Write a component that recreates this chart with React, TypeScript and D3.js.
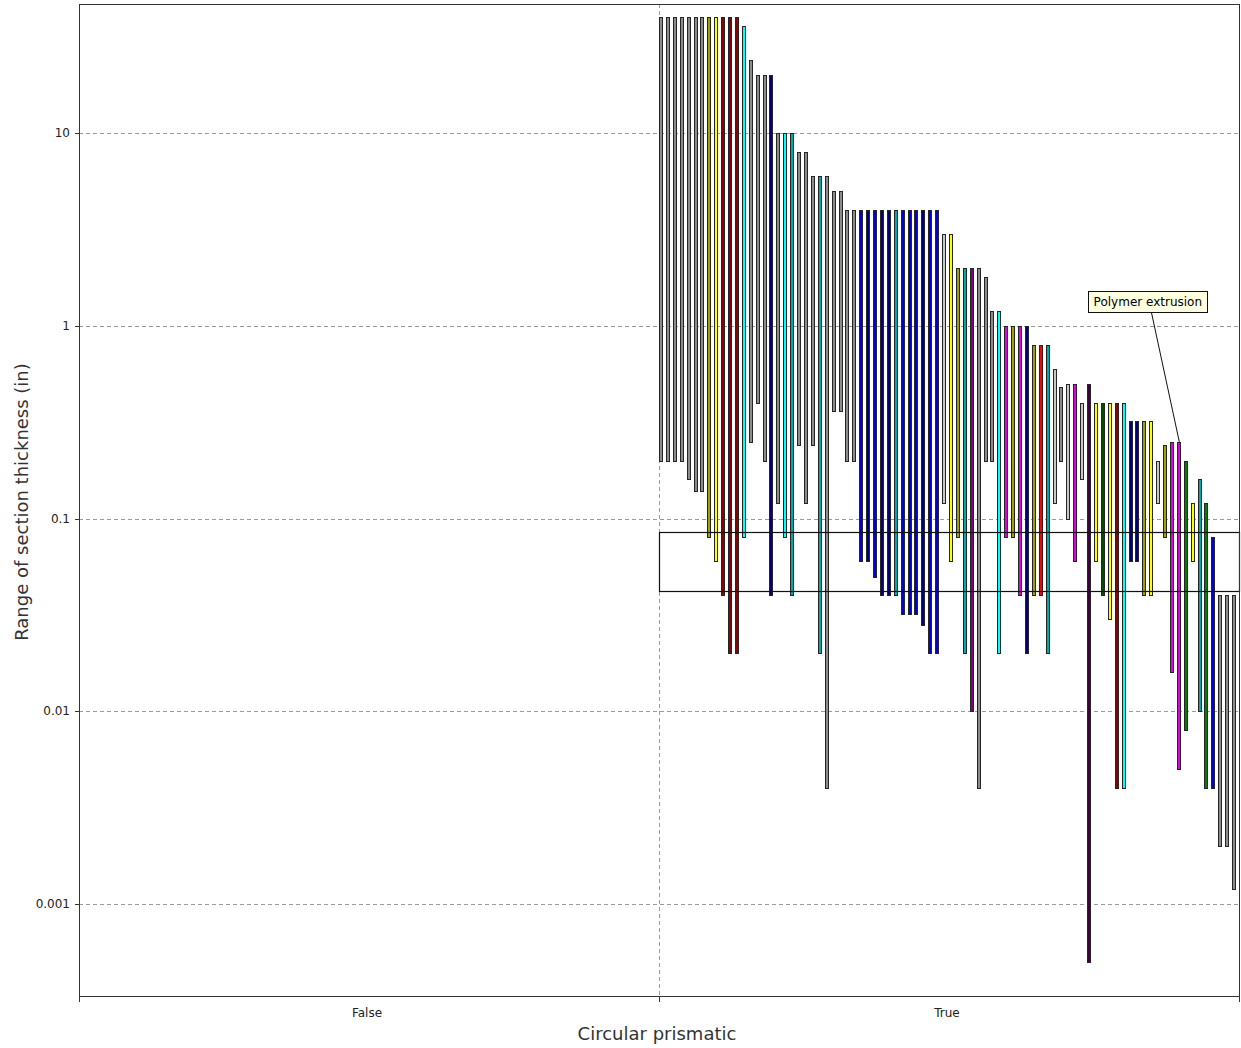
import React from 'react';
import * as d3 from 'd3';

const categories = ['False', 'True'];
const yTickValues = [10, 1, 0.1, 0.01, 0.001];
const yTickLabels = ['10', '1', '0.1', '0.01', '0.001'];
const xTitle = 'Circular prismatic';
const yTitle = 'Range of section thickness (in)';

// each bar: range of section thickness (in) for one material (category "True")
const barLow = [
  0.2, 0.2, 0.2, 0.2, 0.16, 0.14, 0.14, 0.08, 0.06, 0.04, 0.02, 0.02,
  0.08, 0.25, 0.4, 0.2, 0.04, 0.12, 0.08, 0.04, 0.24, 0.12, 0.24, 0.02,
  0.004, 0.36, 0.36, 0.2, 0.2, 0.06, 0.06, 0.05, 0.04, 0.04, 0.04, 0.032,
  0.032, 0.032, 0.028, 0.02, 0.02, 0.12, 0.06, 0.08, 0.02, 0.01, 0.004, 0.2,
  0.2, 0.02, 0.08, 0.08, 0.04, 0.02, 0.04, 0.04, 0.02, 0.12, 0.2, 0.1,
  0.06, 0.16, 0.0005, 0.06, 0.04, 0.03, 0.004, 0.004, 0.06, 0.06, 0.04, 0.04,
  0.12, 0.08, 0.016, 0.005, 0.008, 0.06, 0.01, 0.004, 0.004, 0.002, 0.002, 0.0012,
];
const barHigh = [
  40, 40, 40, 40, 40, 40, 40, 40, 40, 40, 40, 40,
  36, 24, 20, 20, 20, 10, 10, 10, 8, 8, 6, 6,
  6, 5, 5, 4, 4, 4, 4, 4, 4, 4, 4, 4,
  4, 4, 4, 4, 4, 3, 3, 2, 2, 2, 2, 1.8,
  1.2, 1.2, 1, 1, 1, 1, 0.8, 0.8, 0.8, 0.6, 0.48, 0.5,
  0.5, 0.4, 0.5, 0.4, 0.4, 0.4, 0.4, 0.4, 0.32, 0.32, 0.32, 0.32,
  0.2, 0.24, 0.25, 0.25, 0.2, 0.12, 0.16, 0.12, 0.08, 0.04, 0.04, 0.04,
];
const barFamily = [
  'gray', 'gray', 'gray', 'gray', 'gray', 'gray', 'gray', 'olive', 'yellow', 'darkred', 'darkred', 'darkred',
  'cyan', 'gray', 'gray', 'gray', 'navy', 'gray', 'cyan', 'teal', 'gray', 'gray', 'gray', 'teal',
  'gray', 'gray', 'gray', 'gray', 'gray', 'blue', 'navy', 'blue', 'navy', 'navy', 'teal', 'blue',
  'blue', 'blue', 'navy', 'blue', 'blue', 'light', 'yellow', 'olive', 'teal', 'purple', 'gray', 'gray',
  'gray', 'cyan', 'magenta', 'olive', 'magenta', 'navy', 'olive', 'red', 'teal', 'light', 'gray', 'light',
  'magenta', 'light', 'darkpurple', 'yellow', 'darkgreen', 'yellow', 'darkred', 'cyan', 'navy', 'navy', 'olive', 'yellow',
  'light', 'olive', 'magenta', 'magenta', 'green', 'yellow', 'teal', 'green', 'blue', 'gray', 'gray', 'gray',
];
const selectionRange = [0.042, 0.085];
const annotationText = 'Polymer extrusion';
const annotationBar = 75;

const palette: Record<string, string> = {
  gray: '#8c8c8c',
  light: '#c8c8c8',
  olive: '#a0a000',
  yellow: '#ffff00',
  darkred: '#8b0000',
  red: '#ff0000',
  cyan: '#00ffff',
  teal: '#00a8a8',
  navy: '#000080',
  blue: '#0000e0',
  purple: '#800080',
  magenta: '#e000e0',
  darkpurple: '#400040',
  darkgreen: '#005000',
  green: '#008000',
};

const W = 1241;
const H = 1048;
const left = 79;
const right = 1239;
const top = 4;
const bottom = 996;
const FONT = '"DejaVu Sans", Verdana, sans-serif';

export default function App() {
  const x = d3.scaleBand<string>().domain(categories).range([left, right]).padding(0);
  const y = d3.scaleLog().domain([0.000334, 46.8]).range([bottom, top]);
  const trueStart = x('True') as number;
  const barX = d3
    .scaleBand<number>()
    .domain(barLow.map((_, i) => i))
    .range([trueStart, trueStart + x.bandwidth()])
    .padding(0);

  const annX = (barX(annotationBar) as number) + 2.5;
  const annY = y(barHigh[annotationBar]);
  const boxW = 119;
  const boxH = 21;
  const boxX = annX - 91;
  const boxY = annY - 151;

  return (
    <svg
      width={W}
      height={H}
      style={{ position: 'absolute', left: 0, top: 0, background: '#fff' }}
      fontFamily={FONT}
    >
      {/* gridlines */}
      {yTickValues.map((v) => (
        <line
          key={'g' + v}
          x1={left}
          x2={right}
          y1={Math.round(y(v)) + 0.5}
          y2={Math.round(y(v)) + 0.5}
          stroke="#9a9a9a"
          strokeDasharray="4,3"
        />
      ))}
      <line
        x1={trueStart + 0.5}
        x2={trueStart + 0.5}
        y1={top}
        y2={bottom}
        stroke="#9a9a9a"
        strokeDasharray="4,3"
      />
      {/* bars */}
      {barLow.map((lo, i) => {
        const bx = Math.round(barX(i) as number) + 0.5;
        const y1 = Math.round(y(barHigh[i])) + 0.5;
        const y2 = Math.round(y(lo)) + 0.5;
        return (
          <rect
            key={i}
            x={bx}
            y={y1}
            width={3}
            height={y2 - y1}
            fill={palette[barFamily[i]]}
            stroke="#262626"
            strokeWidth={1}
          />
        );
      })}
      {/* selection box */}
      <rect
        x={trueStart + 0.5}
        y={Math.round(y(selectionRange[1])) + 0.5}
        width={x.bandwidth()}
        height={Math.round(y(selectionRange[0])) - Math.round(y(selectionRange[1]))}
        fill="none"
        stroke="#111"
        strokeWidth={1.2}
      />
      {/* frame */}
      <rect
        x={left + 0.5}
        y={top + 0.5}
        width={right - left}
        height={bottom - top}
        fill="none"
        stroke="#333"
      />
      {/* x ticks */}
      {[left, trueStart, right].map((t) => (
        <line key={'xt' + t} x1={t + 0.5} x2={t + 0.5} y1={bottom} y2={bottom + 6} stroke="#333" />
      ))}
      {categories.map((c) => (
        <text
          key={c}
          x={(x(c) as number) + x.bandwidth() / 2 - 2}
          y={1017}
          textAnchor="middle"
          fontSize={12}
          fill="#222"
        >
          {c}
        </text>
      ))}
      {/* y ticks */}
      {yTickValues.map((v, i) => (
        <g key={'yt' + v}>
          <line x1={left - 4} x2={left} y1={Math.round(y(v)) + 0.5} y2={Math.round(y(v)) + 0.5} stroke="#333" />
          <text x={70} y={y(v) + 4} textAnchor="end" fontSize={12} fill="#222">
            {yTickLabels[i]}
          </text>
        </g>
      ))}
      {/* axis titles */}
      <text x={(left + right) / 2 - 2} y={1040} textAnchor="middle" fontSize={18} fill="#333">
        {xTitle}
      </text>
      <text
        transform={`translate(28, ${(top + bottom) / 2 + 2}) rotate(-90)`}
        textAnchor="middle"
        fontSize={18}
        fill="#333"
      >
        {yTitle}
      </text>
      {/* annotation */}
      <line x1={boxX + 63} y1={boxY + boxH} x2={annX} y2={annY} stroke="#111" />
      <rect
        x={Math.round(boxX) + 0.5}
        y={Math.round(boxY) + 0.5}
        width={boxW}
        height={boxH}
        fill="#ffffe1"
        stroke="#111"
      />
      <text x={boxX + boxW / 2} y={boxY + 15} textAnchor="middle" fontSize={12} fill="#000">
        {annotationText}
      </text>
    </svg>
  );
}
